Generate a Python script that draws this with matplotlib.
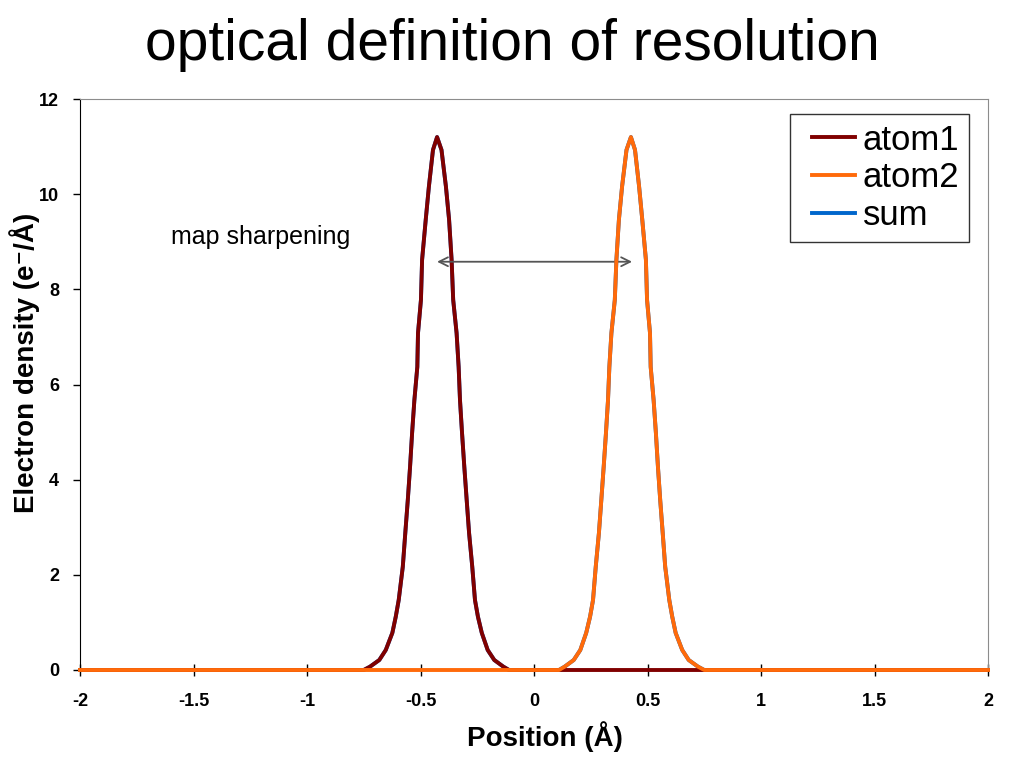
import matplotlib
matplotlib.use("Agg")
import matplotlib.pyplot as plt
from matplotlib.legend_handler import HandlerLine2D

plt.rcParams['font.family'] = ['Liberation Sans', 'DejaVu Sans']

# region Data
atom1_x = [-2.0, -0.75, -0.7225, -0.6815, -0.653, -0.624, -0.609, -0.596, -0.578, -0.567,
           -0.556, -0.546, -0.537, -0.527, -0.514, -0.511, -0.498, -0.493, -0.477, -0.463,
           -0.445, -0.427, -0.4075, -0.388, -0.374, -0.363, -0.356, -0.341, -0.332, -0.326,
           -0.317, -0.307, -0.2965, -0.286, -0.272, -0.260, -0.247, -0.230, -0.204, -0.175,
           -0.135, -0.11, 2.0]
atom1_y = [0, 0, 0.07, 0.21, 0.42, 0.78, 1.12, 1.47, 2.17, 2.88,
           3.57, 4.27, 4.98, 5.67, 6.37, 7.08, 7.78, 8.62, 9.46, 10.16,
           10.93, 11.20, 10.93, 10.16, 9.46, 8.62, 7.78, 7.08, 6.37, 5.67,
           4.98, 4.27, 3.57, 2.88, 2.17, 1.47, 1.12, 0.78, 0.42, 0.21,
           0.07, 0, 0]

atom2_x = [-2.0, 0.11, 0.135, 0.175, 0.204, 0.230, 0.247, 0.260, 0.272, 0.286,
           0.2965, 0.307, 0.317, 0.326, 0.332, 0.341, 0.356, 0.363, 0.374, 0.388,
           0.4075, 0.427, 0.445, 0.463, 0.477, 0.493, 0.498, 0.511, 0.514, 0.527,
           0.537, 0.546, 0.556, 0.567, 0.578, 0.596, 0.609, 0.624, 0.653, 0.6815,
           0.7225, 0.75, 2.0]
atom2_y = [0, 0, 0.07, 0.21, 0.42, 0.78, 1.12, 1.47, 2.17, 2.88,
           3.57, 4.27, 4.98, 5.67, 6.37, 7.08, 7.78, 8.62, 9.46, 10.16,
           10.93, 11.20, 10.93, 10.16, 9.46, 8.62, 7.78, 7.08, 6.37, 5.67,
           4.98, 4.27, 3.57, 2.88, 2.17, 1.47, 1.12, 0.78, 0.42, 0.21,
           0.07, 0, 0]

# the two peaks do not overlap, so the sum is just both pieces joined
sum_x = atom1_x[:-1] + atom2_x[1:]
sum_y = atom1_y[:-1] + atom2_y[1:]

x_ticks = [-2, -1.5, -1, -0.5, 0, 0.5, 1, 1.5, 2]
x_labels = ["-2", "-1.5", "-1", "-0.5", "0", "0.5", "1", "1.5", "2"]
y_ticks = [0, 2, 4, 6, 8, 10, 12]
# endregion

fig = plt.figure(figsize=(10.24, 7.68), dpi=100)
ax = fig.add_axes([80 / 1024, 1 - 670 / 768, 908 / 1024, 571 / 768])

l_sum, = ax.plot(sum_x, sum_y, color="#0066CC", lw=2.8, label="sum", zorder=2, clip_on=False)
l1, = ax.plot(atom1_x, atom1_y, color="#800000", lw=2.8, label="atom1", zorder=3, clip_on=False)
l2, = ax.plot(atom2_x, atom2_y, color="#FF6A0A", lw=2.8, label="atom2", zorder=4, clip_on=False)

ax.set_xlim(-2, 2)
ax.set_ylim(0, 12)
ax.set_xticks(x_ticks)
ax.set_xticklabels(x_labels)
ax.set_yticks(y_ticks)
for lab in ax.get_xticklabels() + ax.get_yticklabels():
    lab.set_fontweight("bold")
    lab.set_fontsize(13)
ax.tick_params(axis="x", direction="inout", length=9, width=1, pad=12)
ax.tick_params(axis="y", direction="out", length=5, width=1, pad=10)

ax.spines["top"].set_color("#8c8c8c")
ax.spines["right"].set_color("#8c8c8c")
ax.spines["left"].set_color("black")
ax.spines["bottom"].set_color("black")

ax.annotate("", xy=(0.432, 8.58), xytext=(-0.427, 8.58),
            arrowprops=dict(arrowstyle="<->", color="#555555", lw=1.3, mutation_scale=16,
                            shrinkA=0, shrinkB=0))
ax.text(-1.6, 9.1, "map sharpening", fontsize=18, va="center", ha="left")

hmap = {l1: HandlerLine2D(xpad=0.37), l2: HandlerLine2D(xpad=0.37), l_sum: HandlerLine2D(xpad=0.37)}
leg = ax.legend(handles=[l1, l2, l_sum], loc="upper right", bbox_to_anchor=(0.979, 0.974),
                borderaxespad=0, fontsize=25, frameon=True, fancybox=False,
                handlelength=1.6, handletextpad=0.22, labelspacing=0.14,
                borderpad=0.28, handler_map=hmap)
leg.get_frame().set_edgecolor("black")
leg.get_frame().set_linewidth(1.0)

fig.text(0.5, 1 - 45 / 768, "optical definition of resolution", fontsize=41,
         ha="center", va="center")
fig.text(545 / 1024, 1 - 737 / 768, "Position (Å)", fontsize=20, fontweight="bold",
         ha="center", va="center")
fig.text(25 / 1024, 1 - 363 / 768, "Electron density (e\u207b/Å)", fontsize=20,
         fontweight="bold", rotation=90, ha="center", va="center")

fig.savefig("out.png", dpi=100)
